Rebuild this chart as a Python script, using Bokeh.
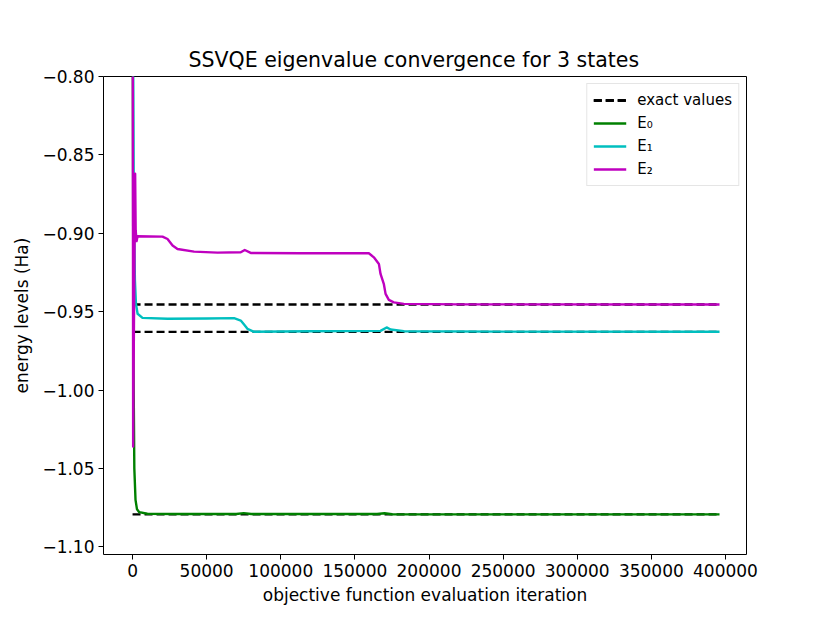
from bokeh.plotting import figure
from bokeh.models import Range1d, FixedTicker, Legend, LegendItem
from bokeh.embed import file_html
from bokeh.resources import INLINE

# ---- data ----
exact_values = [-0.9454, -0.9628, -1.0792]
exact_x = [0, 396000]

e0_x = [0, 600, 1200, 2000, 3000, 4500, 10000, 30000, 70000, 75000, 80000,
        165000, 170000, 175000, 250000, 396000]
e0_y = [-0.70, -0.98, -1.05, -1.07, -1.076, -1.0778, -1.0788, -1.0790, -1.0790,
        -1.0784, -1.0790, -1.0790, -1.0785, -1.0791, -1.0792, -1.0792]

e1_x = [0, 800, 1600, 2300, 3400, 6700, 23600, 50000, 68500, 73000, 75500,
        77500, 82000, 120000, 167300, 171400, 174100, 183000, 250000, 396000]
e1_y = [-0.70, -0.88, -0.93, -0.945, -0.9513, -0.9539, -0.9545, -0.9543, -0.9541,
        -0.9556, -0.9585, -0.9609, -0.9628, -0.9624, -0.9622, -0.9600, -0.9613,
        -0.9624, -0.9627, -0.9628]

e2_x = [0, 400, 1000, 1750, 2100, 2700, 3400, 20200, 23600, 27000, 30300, 41500,
        57300, 73000, 75700, 79700, 113400, 159400, 162800, 166200, 167300,
        169500, 170700, 172900, 176300, 183000, 220000, 396000]
e2_y = [-0.60, -1.036, -0.95, -0.862, -0.898, -0.905, -0.9019, -0.9021, -0.9036,
        -0.9078, -0.9100, -0.9117, -0.9123, -0.9121, -0.9106, -0.9125, -0.9127,
        -0.9127, -0.9153, -0.9195, -0.9259, -0.9322, -0.9386, -0.9424, -0.9440,
        -0.9450, -0.9453, -0.9454]

x_ticks = [0, 50000, 100000, 150000, 200000, 250000, 300000, 350000, 400000]
x_tick_labels = ["0", "50000", "100000", "150000", "200000", "250000",
                 "300000", "350000", "400000"]
y_ticks = [-1.10, -1.05, -1.00, -0.95, -0.90, -0.85, -0.80]
y_tick_labels = ["\u22121.10", "\u22121.05", "\u22121.00", "\u22120.95",
                 "\u22120.90", "\u22120.85", "\u22120.80"]

title_text = "SSVQE eigenvalue convergence for 3 states"
x_label = "objective function evaluation iteration"
y_label = "energy levels (Ha)"
series_labels = ["exact values", "E\u2080", "E\u2081", "E\u2082"]
colors = ["#008000", "#00bfbf", "#bf00bf"]

FONT = "DejaVu Sans"

p = figure(width=814, height=615, output_backend="svg", toolbar_location=None,
           x_range=Range1d(-19600, 414200), y_range=Range1d(-1.1048, -0.80),
           min_border_left=103, min_border_right=68, min_border_top=76,
           min_border_bottom=61)

p.title.text = title_text
p.title.text_font = FONT
p.title.text_font_size = "20.5px"
p.title.text_font_style = "normal"
p.title.text_color = "black"
p.title.align = "left"
p.title.offset = 85
p.title.standoff = 10

p.xgrid.visible = False
p.ygrid.visible = False
p.outline_line_color = "black"
p.outline_line_width = 1
p.outline_line_alpha = 1

for ax in (p.xaxis[0], p.yaxis[0]):
    ax.axis_line_color = None
    ax.major_tick_in = 0
    ax.major_tick_out = 5
    ax.major_tick_line_color = "black"
    ax.minor_tick_in = 0
    ax.minor_tick_out = 0
    ax.major_label_text_font = FONT
    ax.major_label_text_font_size = "17px"
    ax.major_label_text_color = "black"
    ax.axis_label_text_font = FONT
    ax.axis_label_text_font_size = "17px"
    ax.axis_label_text_font_style = "normal"
    ax.axis_label_text_color = "black"
    ax.major_label_standoff = 4

p.xaxis.ticker = FixedTicker(ticks=x_ticks)
p.xaxis.major_label_overrides = dict(zip(x_ticks, x_tick_labels))
p.yaxis.ticker = FixedTicker(ticks=y_ticks)
p.yaxis.major_label_overrides = dict(zip(y_ticks, y_tick_labels))
p.xaxis.axis_label = x_label
p.yaxis.axis_label = y_label
p.xaxis.axis_label_standoff = 5
p.yaxis.axis_label_standoff = 7

renderers = []
ex_rs = []
for v in exact_values:
    r = p.line(exact_x, [v, v], line_color="black", line_width=2.3, line_dash="8 4")
    ex_rs.append(r)
renderers.append(ex_rs)
for xs, ys, c in ((e0_x, e0_y, colors[0]), (e1_x, e1_y, colors[1]), (e2_x, e2_y, colors[2])):
    r = p.line(xs, ys, line_color=c, line_width=2.4, line_join="round")
    renderers.append([r])

legend = Legend(items=[LegendItem(label=lab, renderers=rs)
                       for lab, rs in zip(series_labels, renderers)],
                location="top_right")
legend.margin = 7
legend.padding = 6
legend.spacing = 3
legend.glyph_width = 33
legend.glyph_height = 20
legend.label_height = 20
legend.label_standoff = 11
legend.label_text_font = FONT
legend.label_text_font_size = "15px"
legend.label_text_color = "black"
legend.border_line_color = "#cccccc"
legend.border_line_width = 1
legend.background_fill_alpha = 0.8
p.add_layout(legend, "center")

open("out.html", "w").write(file_html(p, INLINE))
